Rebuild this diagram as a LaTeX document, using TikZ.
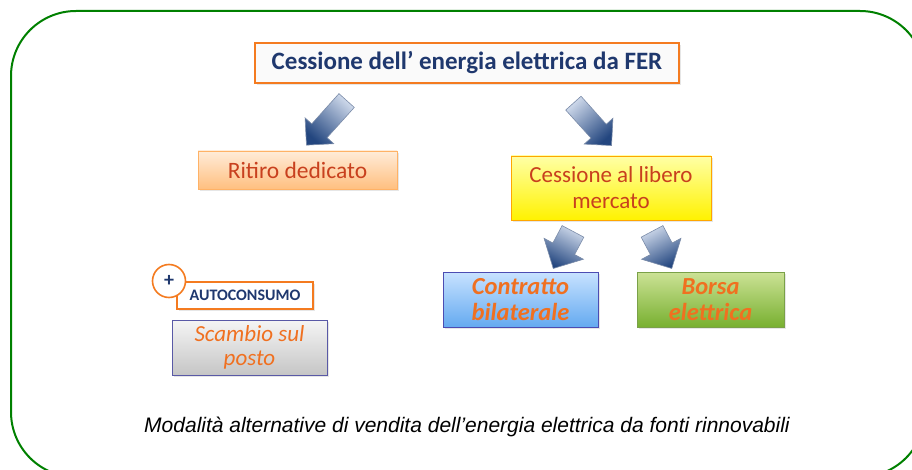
\documentclass[tikz,border=0pt]{standalone}
\usepackage{fontspec}
\setmainfont{Carlito}
\newfontfamily\captionfont{Liberation Sans}
\usetikzlibrary{shapes.arrows,shadows}
\definecolor{framegreen}{RGB}{0,128,0}
\definecolor{edgeorange}{RGB}{244,123,32}
\definecolor{navytext}{RGB}{31,56,110}
\definecolor{redtext}{RGB}{200,64,30}
\definecolor{orangetext}{RGB}{240,112,32}
\definecolor{arrowlight}{RGB}{205,216,234}
\definecolor{arrowdark}{RGB}{35,70,127}
\definecolor{arrowedge}{RGB}{122,139,168}
\definecolor{bluetop}{RGB}{200,226,255}
\definecolor{bluebottom}{RGB}{100,170,240}
\definecolor{greentop}{RGB}{204,226,150}
\definecolor{greenbottom}{RGB}{120,176,48}
\begin{document}
\begin{tikzpicture}[x=1pt,y=-1pt,
  box/.style={draw, line width=0.8pt, align=center, inner sep=0pt,
    drop shadow={opacity=0.2,shadow xshift=2pt,shadow yshift=-2pt}},
  barrow/.style={single arrow, draw=arrowedge, line width=0.6pt, shading=axis,
    top color=arrowlight, bottom color=arrowdark, inner xsep=0pt}]
  \clip (0,0) rectangle (912,470);
  \draw[framegreen, line width=2pt, rounded corners=65pt] (11,11) rectangle (925,477);

  \node[box, draw=edgeorange, line width=1.6pt, fill=gray!4, text=navytext,
    minimum width=424pt, minimum height=40pt, font=\fontsize{25}{28}\selectfont\bfseries]
    (fer) at (467,63) {Cessione dell’ energia elettrica da FER};
  \node[box, draw=orange!60, top color=orange!15, bottom color=orange!50, text=redtext,
    minimum width=199pt, minimum height=38pt, font=\fontsize{23.5}{26}\selectfont]
    (ritiro) at (297.5,170) {Ritiro dedicato};
  \node[box, draw=orange!70!yellow, top color=yellow!35, bottom color=yellow!90!orange, text=redtext,
    minimum width=200pt, minimum height=64pt, font=\fontsize{23}{26}\selectfont]
    (libero) at (611,188) {Cessione al libero\\mercato};
  \node[box, draw=edgeorange, line width=1.6pt, fill=white, text=navytext,
    minimum width=136pt, minimum height=27pt, font=\fontsize{16}{18}\selectfont\bfseries]
    (auto) at (245,295.5) {AUTOCONSUMO};
  \node[circle, draw=edgeorange, line width=1.6pt, fill=white, text=navytext,
    minimum size=33pt, inner sep=0pt, font=\fontsize{20}{20}\selectfont\bfseries]
    (plus) at (169,281) {+};
  \node[box, draw=blue!30!gray, top color=gray!8, bottom color=gray!45, text=orangetext,
    minimum width=155pt, minimum height=55pt, font=\fontsize{23}{24}\selectfont\itshape]
    (scambio) at (249.5,347.5) {Scambio sul\\posto};
  \node[box, draw=blue!40!gray, top color=bluetop, bottom color=bluebottom, text=orangetext,
    minimum width=155pt, minimum height=55pt, font=\fontsize{24.5}{26}\selectfont\bfseries\itshape]
    (contratto) at (520.5,299.5) {Contratto\\bilaterale};
  \node[box, draw=greenbottom!70!gray, top color=greentop, bottom color=greenbottom, text=orangetext,
    minimum width=147pt, minimum height=55pt, font=\fontsize{24.5}{26}\selectfont\bfseries\itshape]
    (borsa) at (710.5,299.5) {Borsa\\elettrica};

  \node[barrow, rotate=-132, shading angle=-42, minimum height=60pt, inner ysep=10pt, single arrow head extend=9pt]
    (fer-ritiro) at (330,119) {};
  \node[barrow, rotate=-48, shading angle=42, minimum height=57pt, inner ysep=10pt, single arrow head extend=9pt]
    (fer-libero) at (589,120.5) {};
  \node[barrow, rotate=-118, shading angle=-28, minimum height=42pt, inner ysep=12pt, single arrow head extend=10pt]
    (libero-contratto) at (566,244.5) {};
  \node[barrow, rotate=-62, shading angle=28, minimum height=42pt, inner ysep=12pt, single arrow head extend=10pt]
    (libero-borsa) at (659,244.5) {};

  \node[font=\captionfont\fontsize{21}{24}\selectfont\itshape] (caption) at (467,427)
    {Modalità alternative di vendita dell’energia elettrica da fonti rinnovabili};
\end{tikzpicture}
\end{document}
